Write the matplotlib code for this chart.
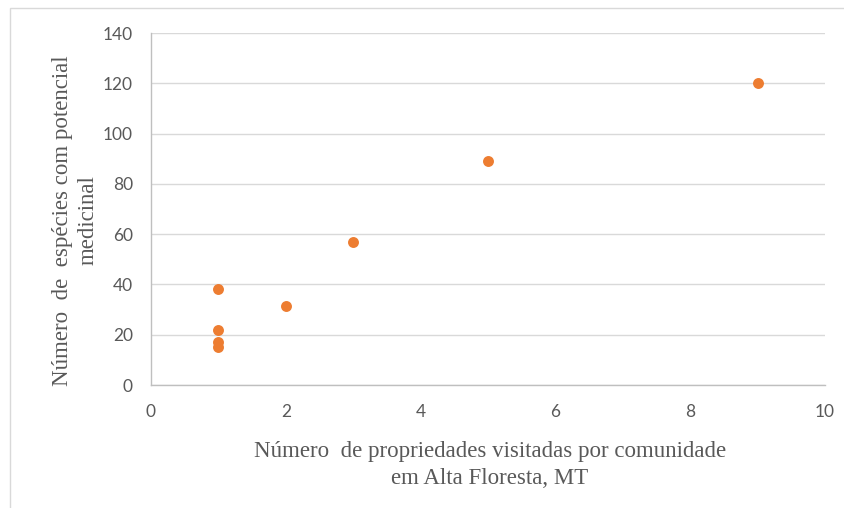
import matplotlib.pyplot as plt
from matplotlib.patches import Rectangle

# propriedades visitadas x espécies com potencial medicinal
propriedades = [1, 1, 1, 1, 2, 3, 5, 9]
especies = [38, 22, 17, 15, 31.5, 57, 89, 120]

xticks = [0, 2, 4, 6, 8, 10]
yticks = [0, 20, 40, 60, 80, 100, 120, 140]

laranja = '#ED7D31'
cinza_txt = '#595959'

fig = plt.figure(figsize=(8.44, 5.08), dpi=100)
ax = fig.add_axes([0.1789, 0.2421, 0.7986, 0.6929])

ax.scatter(propriedades, especies, s=62, color=laranja, zorder=3, linewidths=0)

ax.set_xlim(0, 10)
ax.set_ylim(0, 140)
ax.set_xticks(xticks)
ax.set_yticks(yticks)
ax.tick_params(length=0, labelsize=12.5, labelcolor=cinza_txt)
ax.tick_params(axis='y', pad=13)
ax.tick_params(axis='x', pad=14)
for lbl in ax.get_xticklabels() + ax.get_yticklabels():
    lbl.set_family('Lato')

ax.grid(axis='y', color='#D9D9D9', linewidth=1)
ax.set_axisbelow(True)
for s in ['top', 'right']:
    ax.spines[s].set_visible(False)
for s in ['left', 'bottom']:
    ax.spines[s].set_color('#BFBFBF')
    ax.spines[s].set_linewidth(1)

serif = 'Liberation Serif'
fig.text(0.5805, 0.0845, 'Número  de propriedades visitadas por comunidade\nem Alta Floresta, MT',
         ha='center', va='center', family=serif, fontsize=16.5, color=cinza_txt,
         linespacing=1.35)
fig.text(0.0895, 0.566, 'Número  de  espécies com potencial\nmedicinal',
         ha='center', va='center', rotation=90, family=serif, fontsize=16.5,
         color=cinza_txt, linespacing=1.3)

# moldura do gráfico
fig.add_artist(Rectangle((10 / 844, -0.02), 1.0, 1 - 8 / 508 + 0.02, transform=fig.transFigure,
                         fill=False, edgecolor='#D9D9D9', linewidth=1))

fig.savefig('out.png', dpi=100)
